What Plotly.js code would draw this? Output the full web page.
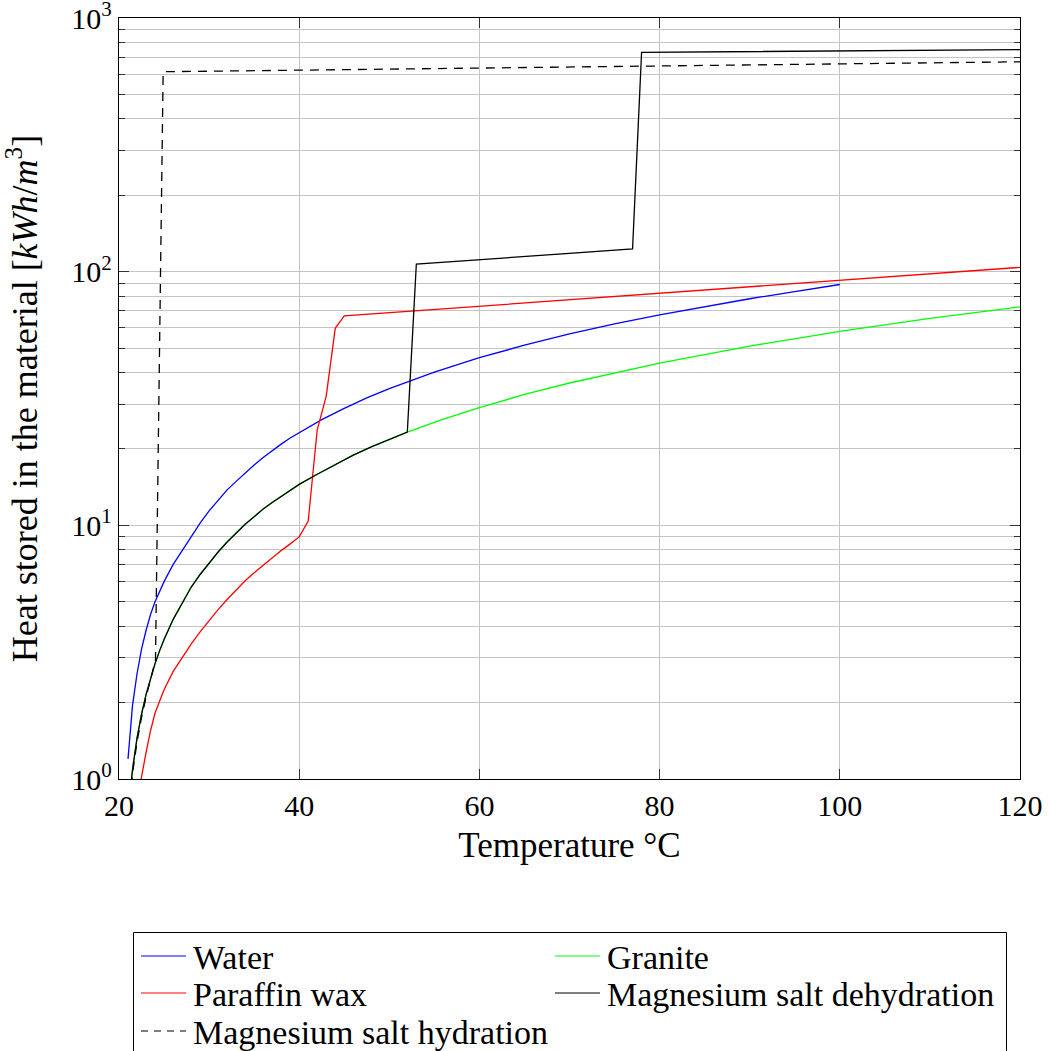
<!DOCTYPE html>
<html><head><meta charset="utf-8">
<script src="https://cdn.plot.ly/plotly-3.0.1.min.js"></script>
<style>html,body{margin:0;padding:0;background:#fff}#chart{width:1049px;height:1051px}</style>
</head><body><div id="chart"></div>
<script>
// ---- data ----
const seriesNames = ['Water', 'Granite', 'Paraffin wax', 'Magnesium salt dehydration', 'Magnesium salt hydration'];

const waterTemp = [21, 21.5, 22, 22.5, 23, 23.5, 24, 25, 26, 27, 28, 29, 30, 31, 32, 33, 34, 35, 36, 37, 38, 39, 40, 42.5, 45, 47.5, 50, 55, 60, 65, 70, 75, 80, 85, 90, 95, 100];
const waterHeat = [1.2, 1.95, 2.6, 3.25, 3.85, 4.45, 5.0, 6.0, 7.0, 7.95, 9.0, 10.2, 11.4, 12.6, 13.8, 14.9, 16.1, 17.3, 18.5, 19.7, 20.9, 22.1, 23.2, 26.1, 28.9, 31.8, 34.6, 40.2, 45.8, 51.3, 56.8, 62.2, 67.6, 72.9, 78.2, 83.5, 89.0];

const graniteTemp = [21, 21.5, 22, 22.5, 23, 23.5, 24, 24.5, 25, 26, 27, 28, 29, 30, 31, 32, 33, 34, 35, 36, 37, 38, 39, 40, 42, 44, 46, 48, 50, 52, 56, 60, 65, 70, 80, 90, 100, 110, 120];
const graniteHeat = [0.73, 1.09, 1.45, 1.8, 2.15, 2.5, 2.85, 3.2, 3.55, 4.25, 4.95, 5.7, 6.4, 7.1, 7.85, 8.6, 9.35, 10.1, 10.8, 11.6, 12.3, 13.0, 13.8, 14.5, 15.9, 17.4, 18.9, 20.4, 21.8, 23.3, 26.2, 29.1, 32.8, 36.4, 43.6, 50.9, 58.2, 65.4, 72.7];

const paraffinTemp = [22, 22.5, 23, 23.5, 24, 24.5, 25, 26, 27, 28, 29, 30, 31, 32, 33, 34, 35, 36, 37, 38, 39, 40, 41, 42, 43, 44, 45, 120];
const paraffinHeat = [0.75, 1.02, 1.27, 1.55, 1.82, 2.04, 2.25, 2.65, 3.02, 3.4, 3.8, 4.22, 4.65, 5.1, 5.55, 6.05, 6.5, 6.97, 7.45, 7.95, 8.45, 9.0, 10.4, 23.8, 32.3, 59.8, 66.9, 104];

const dehydTemp = [21, 21.5, 22, 22.5, 23, 23.5, 24, 24.5, 25, 26, 27, 28, 29, 30, 31, 32, 33, 34, 35, 36, 37, 38, 39, 40, 42, 44, 46, 48, 50, 52, 53, 77, 78, 120];
const dehydHeat = [0.73, 1.09, 1.45, 1.8, 2.15, 2.5, 2.85, 3.2, 3.55, 4.25, 4.95, 5.7, 6.4, 7.1, 7.85, 8.6, 9.35, 10.1, 10.8, 11.6, 12.3, 13.0, 13.8, 14.5, 15.9, 17.4, 18.9, 20.4, 21.8, 23.3, 107, 123, 732, 750];

const hydTemp = [21, 21.5, 22, 22.5, 23, 23.5, 24.05, 24.9, 120];
const hydHeat = [0.7, 1.05, 1.4, 1.75, 2.1, 2.5, 2.95, 614, 672];

const xTickVals = [20, 40, 60, 80, 100, 120];
const yTickVals = [1, 10, 100, 1000];
const yTickText = ['10<sup>0</sup>', '10<sup>1</sup>', '10<sup>2</sup>', '10<sup>3</sup>'];

// ---- styles ----
const FONT = '"Liberation Serif", "DejaVu Serif", "Times New Roman", Times, serif';
const styles = [
  {color: '#0000ff', dash: 'solid'},
  {color: '#00ff00', dash: 'solid'},
  {color: '#ff0000', dash: 'solid'},
  {color: '#000000', dash: 'solid'},
  {color: '#000000', dash: '9px,7px'}
];
const xs = [waterTemp, graniteTemp, paraffinTemp, dehydTemp, hydTemp];
const ys = [waterHeat, graniteHeat, paraffinHeat, dehydHeat, hydHeat];

const traces = seriesNames.map((n, i) => ({
  type: 'scatter', mode: 'lines', name: n, x: xs[i], y: ys[i],
  line: {color: styles[i].color, width: 1.3, dash: styles[i].dash},
  showlegend: false, hoverinfo: 'skip'
}));

// geometry helpers for the manually drawn legend (paper coords)
const W = 1049, H = 1051, ML = 119, MR = 29, MT = 18, MB = 272;
const PW = W - ML - MR, PH = H - MT - MB;
const px2x = p => (p - ML) / PW;
const py2y = p => (H - MB - p) / PH;

const shapes = [{
  type: 'rect', xref: 'paper', yref: 'paper',
  x0: px2x(133.5), x1: px2x(1006.5), y0: py2y(932.5), y1: py2y(1070),
  line: {color: '#000', width: 1}, fillcolor: 'rgba(0,0,0,0)'
}];
const annotations = [];
const colX = [141, 555];
const rowY = [956, 993, 1031];
seriesNames.forEach((n, i) => {
  const c = i % 2, r = Math.floor(i / 2);
  const legendDash = styles[i].dash === 'solid' ? 'solid' : '7px,6px';
  shapes.push({
    type: 'line', xref: 'paper', yref: 'paper',
    x0: px2x(colX[c]), x1: px2x(colX[c] + 45), y0: py2y(rowY[r]), y1: py2y(rowY[r]),
    line: {color: styles[i].color, width: 1.2, dash: legendDash}
  });
  annotations.push({
    xref: 'paper', yref: 'paper', x: px2x(colX[c] + 50), y: py2y(rowY[r] + 1),
    xanchor: 'left', yanchor: 'middle', showarrow: false, text: n,
    font: {family: FONT, size: 34, color: '#000'}
  });
});

const layout = {
  width: W, height: H,
  margin: {l: ML, r: MR, t: MT, b: MB, autoexpand: false},
  paper_bgcolor: '#fff', plot_bgcolor: '#fff',
  showlegend: false,
  font: {family: FONT, color: '#000'},
  xaxis: {
    range: [20, 120], tickmode: 'array', tickvals: xTickVals,
    showgrid: true, gridcolor: '#c4c4c4', gridwidth: 1,
    zeroline: false, showline: true, linecolor: '#000', linewidth: 1.2, mirror: 'allticks',
    ticks: 'inside', ticklen: 10, tickcolor: '#333', tickwidth: 1,
    ticklabeloverflow: 'allow',
    tickfont: {family: FONT, size: 30, color: '#000'},
    title: {text: 'Temperature °C', font: {family: FONT, size: 35, color: '#000'}, standoff: 11}
  },
  yaxis: {
    type: 'log', range: [-0.00001, 3.00001], tickmode: 'array', tickvals: yTickVals, ticktext: yTickText,
    showgrid: true, gridcolor: '#c4c4c4', gridwidth: 1,
    zeroline: false, showline: true, linecolor: '#000', linewidth: 1.2, mirror: 'allticks',
    ticks: 'inside', ticklen: 10, tickcolor: '#333', tickwidth: 1,
    ticklabeloverflow: 'allow',
    minor: {dtick: 'D1', showgrid: true, gridcolor: '#c4c4c4', gridwidth: 1, ticks: 'inside', ticklen: 6, tickcolor: '#333'},
    tickfont: {family: FONT, size: 30, color: '#000'},
    title: {text: 'Heat stored in the material [<i>kWh</i>/<i>m</i><sup>3</sup>]', font: {family: FONT, size: 36, color: '#000'}, standoff: 24}
  },
  shapes: shapes,
  annotations: annotations
};

Plotly.newPlot('chart', traces, layout, {displayModeBar: false, staticPlot: true});
</script>
</body></html>
